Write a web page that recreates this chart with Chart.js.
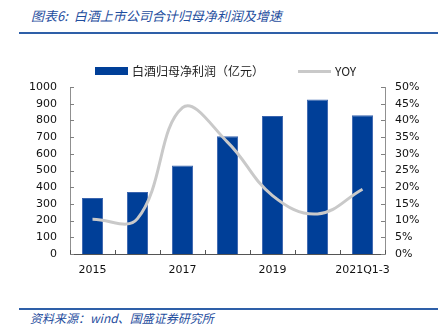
<!DOCTYPE html>
<html>
<head>
<meta charset="utf-8">
<script src="https://cdn.jsdelivr.net/npm/chart.js@4/dist/chart.umd.min.js"></script>
<style>
  body { margin: 0; background: #fff; }
  #wrap { position: relative; width: 438px; height: 332px; overflow: hidden; }
  .title { position: absolute; left: 31px; top: 6px; font: italic 13px "Noto Sans CJK SC", sans-serif; color: #1f4e9e; white-space: nowrap; }
  .rule { position: absolute; left: 19px; right: 0; height: 2px; background: #2e5fa8; }
  .source { position: absolute; left: 30px; top: 309px; font: italic 12px "Noto Sans CJK SC", sans-serif; color: #1f4e9e; white-space: nowrap; }
  #c { position: absolute; left: 0; top: 40px; }
  #legend { position: absolute; left: 95px; top: 62px; display: flex; gap: 34px; font: 12px "Noto Sans CJK SC", sans-serif; color: #222; line-height: 18px; }
  #legend .item { display: flex; align-items: center; white-space: nowrap; }
  #legend .sw { display: inline-block; width: 33px; margin-right: 4px; }
</style>
</head>
<body>
<div id="wrap">
  <div class="title">图表6:&nbsp; 白酒上市公司合计归母净利润及增速</div>
  <div class="rule" style="top:32px"></div>
  <canvas id="c" width="438" height="260"></canvas>
  <div id="legend"></div>
  <div class="rule" style="top:308px"></div>
  <div class="source">资料来源：wind、国盛证券研究所</div>
</div>
<script>
// data
const categories = ['2015', '2016', '2017', '2018', '2019', '2020', '2021Q1-3'];
const shownLabels = ['2015', '2017', '2019', '2021Q1-3'];
const profit = [336, 372, 530, 705, 827, 925, 831];   // 亿元
const yoy = [10.4, 10.6, 43.8, 33.5, 17.5, 12.0, 19.4]; // %

const tickFont = { family: 'DejaVu Sans', size: 11 };

// small inward tick marks on each axis
const innerTicks = {
  id: 'innerTicks',
  afterDatasetsDraw(chart) {
    const ctx = chart.ctx;
    const { x, y, yr } = chart.scales;
    ctx.save();
    ctx.lineWidth = 1;
    ctx.strokeStyle = '#808080';
    y.ticks.forEach((t, i) => {
      const py = Math.round(y.getPixelForTick(i)) + 0.5;
      ctx.beginPath(); ctx.moveTo(y.right, py); ctx.lineTo(y.right + 4, py); ctx.stroke();
    });
    yr.ticks.forEach((t, i) => {
      const py = Math.round(yr.getPixelForTick(i)) + 0.5;
      ctx.beginPath(); ctx.moveTo(yr.left - 4, py); ctx.lineTo(yr.left, py); ctx.stroke();
    });
    ctx.strokeStyle = '#555';
    for (let i = 0; i <= categories.length; i++) {
      const px = Math.round(x.getPixelForValue(i - 0.5)) + 0.5;
      ctx.beginPath(); ctx.moveTo(px, x.top); ctx.lineTo(px, x.top - 4); ctx.stroke();
    }
    ctx.restore();
  }
};

const chart = new Chart(document.getElementById('c'), {
  data: {
    labels: categories,
    datasets: [
      {
        type: 'bar',
        label: '白酒归母净利润（亿元）',
        data: profit,
        yAxisID: 'y',
        backgroundColor: '#003f98',
        borderColor: '#3a64ae',
        borderWidth: 1,
        barPercentage: 0.47,
        categoryPercentage: 1,
        order: 1
      },
      {
        type: 'line',
        label: 'YOY',
        data: yoy,
        yAxisID: 'yr',
        borderColor: '#c9c9c9',
        backgroundColor: '#c9c9c9',
        borderWidth: 3,
        pointRadius: 0,
        tension: 0.4,
        order: 0
      }
    ]
  },
  options: {
    responsive: false,
    animation: false,
    layout: { padding: { top: 47, left: 18, right: 0, bottom: 0 } },
    plugins: {
      tooltip: { enabled: false },
      legend: { display: false }
    },
    scales: {
      x: {
        offset: true,
        grid: { display: false, offset: true, drawTicks: false },
        border: { display: true, color: '#555' },
        ticks: {
          autoSkip: false,
          maxRotation: 0,
          padding: 10,
          color: '#111',
          font: tickFont,
          callback(v, i) { return shownLabels.includes(categories[i]) ? categories[i] : ''; }
        },
        afterFit(s) { s.height = 46; }
      },
      y: {
        position: 'left',
        min: 0, max: 1000,
        grid: { display: false, drawTicks: false },
        border: { display: true, color: '#909090' },
        ticks: { stepSize: 100, autoSkip: false, padding: 13, color: '#111', font: tickFont, callback: v => String(v) },
        afterFit(s) { s.width = 52; }
      },
      yr: {
        position: 'right',
        min: 0, max: 50,
        grid: { display: false, drawTicks: false },
        border: { display: true, color: '#909090' },
        ticks: { stepSize: 5, autoSkip: false, padding: 10, color: '#111', font: tickFont, callback: v => v + '%' },
        afterFit(s) { s.width = 53; }
      }
    }
  },
  plugins: [innerTicks]
});

// legend built from the datasets
const legendEl = document.getElementById('legend');
chart.data.datasets.forEach(ds => {
  const item = document.createElement('span');
  item.className = 'item';
  const sw = document.createElement('span');
  sw.className = 'sw';
  if (ds.type === 'bar') {
    sw.style.height = '8px';
    sw.style.background = ds.backgroundColor;
  } else {
    sw.style.height = ds.borderWidth + 'px';
    sw.style.background = ds.borderColor;
  }
  item.appendChild(sw);
  item.appendChild(document.createTextNode(ds.label));
  legendEl.appendChild(item);
});
</script>
</body>
</html>
